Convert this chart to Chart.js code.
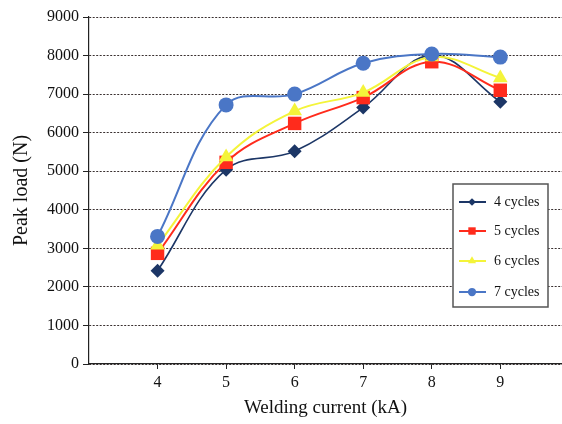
<!DOCTYPE html>
<html>
<head>
<meta charset="utf-8">
<script src="https://cdn.jsdelivr.net/npm/chart.js@4"></script>
<style>
  body { margin: 0; background: #fff; }
  #wrap { width: 562px; height: 424px; }
</style>
</head>
<body>
<div id="wrap"><canvas id="chartJS" width="562" height="424"></canvas></div>
<script>
// valores
const correntes = [4, 5, 6, 7, 8, 9]
const ticksY = [0, 1000, 2000, 3000, 4000, 5000, 6000, 7000, 8000, 9000]
const ciclos4 = [2420, 5040, 5520, 6650, 8010, 6800]
const ciclos5 = [2870, 5230, 6240, 6910, 7840, 7100]
const ciclos6 = [3080, 5370, 6560, 7040, 7960, 7420]
const ciclos7 = [3310, 6720, 7000, 7800, 8040, 7960]
const nomes = ["4 cycles", "5 cycles", "6 cycles", "7 cycles"]

const fonte = "'Liberation Serif', 'Times New Roman', serif"

function serie(nome, valores, cor, ponto, raio, ordem, largura) {
    return {
        label: nome,
        data: correntes.map((x, i) => ({ x: x, y: valores[i] })),
        borderColor: cor,
        backgroundColor: cor,
        borderWidth: largura,
        pointStyle: ponto,
        pointRadius: raio,
        pointBorderWidth: 0,
        tension: 0.38,
        order: ordem,
    }
}

const datasets = [
    serie(nomes[0], ciclos4, "#1c3666", "rectRot", 7, 3, 1.6),
    serie(nomes[1], ciclos5, "#ff2b1c", "rect", 9.5, 2, 2),
    serie(nomes[2], ciclos6, "#f4f43a", "triangle", 8.5, 1, 2),
    serie(nomes[3], ciclos7, "#4a76c6", "circle", 7.5, 0, 2),
]

// legenda desenhada dentro da área do gráfico
const legendaCaixa = {
    id: "legendaCaixa",
    afterDraw(chart) {
        const ctx = chart.ctx
        const x0 = 453, y0 = 184, w = 95, h = 123
        ctx.save()
        ctx.fillStyle = "#fff"
        ctx.fillRect(x0, y0, w, h)
        ctx.strokeStyle = "#555"
        ctx.lineWidth = 1.5
        ctx.strokeRect(x0, y0, w, h)
        ctx.font = "14px " + fonte
        ctx.textBaseline = "middle"
        const linhasY = [202, 231, 261, 292]
        datasets.forEach((ds, i) => {
            const y = linhasY[i]
            ctx.strokeStyle = ds.borderColor
            ctx.lineWidth = 2
            ctx.beginPath()
            ctx.moveTo(459, y)
            ctx.lineTo(486, y)
            ctx.stroke()
            ctx.fillStyle = ds.backgroundColor
            Chart.helpers.drawPoint(ctx, { pointStyle: ds.pointStyle, radius: ds.pointRadius * 0.55, borderWidth: 0, rotation: 0 }, 472, y)
            ctx.fillStyle = "#111"
            ctx.fillText(ds.label, 494, y)
        })
        ctx.restore()
    }
}

const config = {
    type: "line",
    data: { datasets: datasets },
    options: {
        responsive: false,
        animation: false,
        layout: { autoPadding: false, padding: { top: 17, right: 0, left: 0, bottom: 0 } },
        plugins: {
            legend: { display: false },
            tooltip: { enabled: false },
        },
        scales: {
            x: {
                type: "linear",
                min: 3,
                max: 9.9,
                afterBuildTicks: (s) => { s.ticks = correntes.map(v => ({ value: v })) },
                afterFit: (s) => { s.height = 60; s.paddingRight = 0; s.paddingLeft = 0 },
                grid: { drawOnChartArea: false, drawTicks: true, tickLength: 5, tickColor: "#222", tickWidth: 1 },
                border: { color: "#222", width: 1.2 },
                ticks: { color: "#111", font: { family: fonte, size: 16 }, padding: 4 },
                title: { display: true, text: "Welding current (kA)", color: "#111", font: { family: fonte, size: 19 }, padding: { top: 0, bottom: 5 } },
            },
            y: {
                min: 0,
                max: 9000,
                afterBuildTicks: (s) => { s.ticks = ticksY.map(v => ({ value: v })) },
                afterFit: (s) => { s.width = 89 },
                grid: { color: "#3a3030", lineWidth: 1, tickLength: 6, tickColor: "#222", tickWidth: 1 },
                border: { color: "#222", width: 1.2, dash: [2, 1.5] },
                ticks: { color: "#111", font: { family: fonte, size: 16 }, padding: 4, callback: (v) => String(v) },
                title: { display: true, text: "Peak load (N)", color: "#111", font: { family: fonte, size: 20 }, padding: { top: 10, bottom: 0 } },
            },
        },
    },
    plugins: [legendaCaixa, {
        id: "fundo",
        beforeDraw(chart) {
            const ctx = chart.ctx
            ctx.save()
            ctx.fillStyle = "#fff"
            ctx.fillRect(0, 0, chart.width, chart.height)
            ctx.restore()
        }
    }],
}

const myChart = new Chart(document.getElementById("chartJS"), config)
</script>
</body>
</html>
